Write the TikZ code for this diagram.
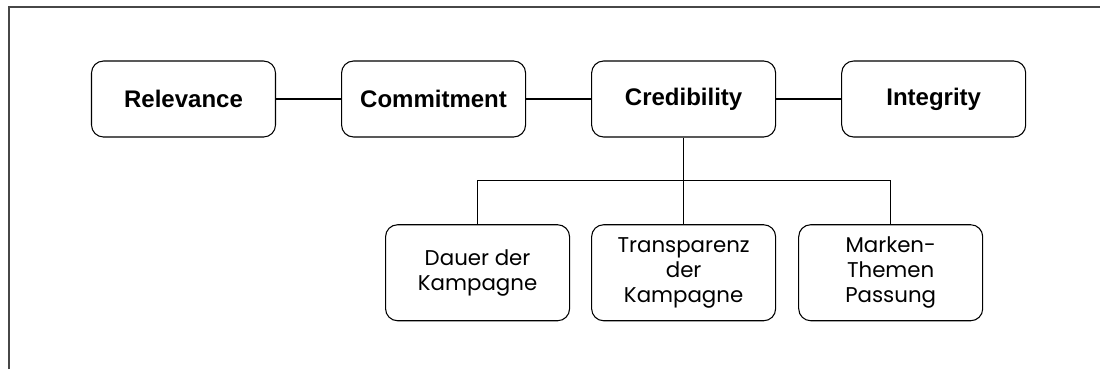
\documentclass[tikz,border=0pt]{standalone}
\usepackage{fontspec}
\usepackage{tikz}
\usetikzlibrary{positioning}
\usetikzlibrary{calc}
\newfontfamily\mainlabelfont{Liberation Sans}
\newfontfamily\sublabelfont{Poppins}
\tikzset{
    criteria diagram/.style={
            x=0.75pt,y=-0.75pt,
            node distance=48.75pt,
            line/.style={draw,line width=0.8pt},
            criterion/.style={draw,line width=0.8pt,rounded corners=9pt,
                minimum width=138pt,minimum height=57pt,align=center,
                font=\mainlabelfont\bfseries\fontsize{18}{21}\selectfont},
            subcriterion/.style={draw,line width=0.8pt,rounded corners=9pt,
                minimum width=138pt,minimum height=72pt,align=center,
                font=\sublabelfont\fontsize{16}{18.75}\selectfont}
        }
    }
\begin{document}
\begin{tikzpicture}[criteria diagram]
                \useasboundingbox (0,0) rectangle (1100,369);
                \draw [black!72, line width=1.5pt] (9,369) -- (9,7) -- (1100,7);
                \node [criterion] (rel) at (183.5,99) {Relevance};
                \node [criterion] (com) [right=of rel] {Commitment};
                \node [criterion] (cred) [right=of com] {Credibility};
                \node [criterion] (integ) [right=of cred] {Integrity};
                \node [subcriterion] (trans) [below=65pt of cred] {Transparenz\\der\\Kampagne};
                \node [subcriterion] (dauer) [left=15.75pt of trans] {Dauer der\\Kampagne};
                \node [subcriterion] (marken) [right=16.5pt of trans] {Marken-\\Themen\\Passung};
                \coordinate (bus) at ($(cred.south)!0.5!(trans.north)$);
                \draw [line] (rel) -- (com);
                \draw [line] (com) -- (cred);
                \draw [line] (cred) -- (integ);
                \draw [line] (cred.south) -- (bus);
                \draw [line] (dauer.north) |- (bus) -| (marken.north);
                \draw [line] (bus) -- (trans.north);
            \end{tikzpicture}
\end{document}
